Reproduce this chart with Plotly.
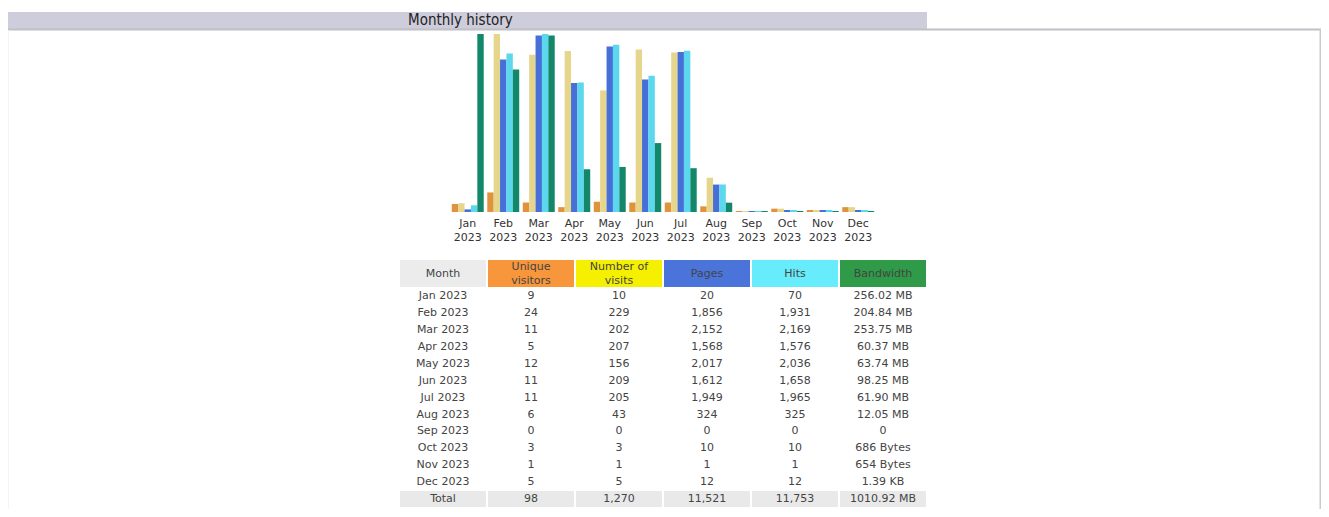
import plotly.graph_objects as go

# Page body has an 8px margin: figure covers page pixels (8,8)-(1329,509)
OX, OY = 8, 8
W, H = 1329 - OX, 517 - 2 * OY

months = ["Jan", "Feb", "Mar", "Apr", "May", "Jun", "Jul", "Aug", "Sep", "Oct", "Nov", "Dec"]
year = "2023"
visitors = [9, 24, 11, 5, 12, 11, 11, 6, 0, 3, 1, 5]
visits = [10, 229, 202, 207, 156, 209, 205, 43, 0, 3, 1, 5]
pages = [20, 1856, 2152, 1568, 2017, 1612, 1949, 324, 0, 10, 1, 12]
hits = [70, 1931, 2169, 1576, 2036, 1658, 1965, 325, 0, 10, 1, 12]
bandwidth_mb = [256.02, 204.84, 253.75, 60.37, 63.74, 98.25, 61.90, 12.05, 0,
                686 / 1048576, 654 / 1048576, 1.39 / 1024]
bandwidth_txt = ["256.02 MB", "204.84 MB", "253.75 MB", "60.37 MB", "63.74 MB", "98.25 MB",
                 "61.90 MB", "12.05 MB", "0", "686 Bytes", "654 Bytes", "1.39 KB"]
totals = ["Total", "98", "1,270", "11,521", "11,753", "1010.92 MB"]

col_headers = ["Month", "Unique<br>visitors", "Number of<br>visits", "Pages", "Hits", "Bandwidth"]
header_colors = ["#ececec", "#f8963c", "#f4f000", "#4a74da", "#66ecfa", "#2f9a48"]
bar_colors = ["#e0923c", "#e6d68c", "#4670d8", "#5cd8ee", "#13876a"]

BAR_H = 177  # bar pixel height for the maximum value (AWStats style)


def px(x):
    return (x - OX) / W


def py(y):
    return 1 - (y - OY) / H


def scale(vals, vmax):
    return [v / vmax * BAR_H + 1 for v in vals]


max_v = max(visits)
max_h = max(hits)
max_k = max(bandwidth_mb)
series = [
    ("Unique visitors", scale(visitors, max_v), visitors),
    ("Number of visits", scale(visits, max_v), visits),
    ("Pages", scale(pages, max_h), pages),
    ("Hits", scale(hits, max_h), hits),
    ("Bandwidth", scale(bandwidth_mb, max_k), bandwidth_txt),
]

xlabels = [f"{m}<br>{year}" for m in months]

fig = go.Figure()
for (name, hts, raw), col in zip(series, bar_colors):
    fig.add_trace(go.Bar(
        x=list(range(12)), y=hts, name=name, marker=dict(color=col, line=dict(width=0)),
        customdata=raw, hovertemplate="%{customdata}<extra>" + name + "</extra>",
    ))


def fmt(n):
    return f"{n:,}"


# ---- table (heatmap for cell fills, text trace for contents) ----
month_col = [f"{m} {year}" for m in months]
body = [
    month_col,
    [fmt(v) for v in visitors],
    [fmt(v) for v in visits],
    [fmt(v) for v in pages],
    [fmt(v) for v in hits],
    bandwidth_txt,
]
HEAD_H, ROW_H = 28, 16.9
nbody = len(month_col) + 1  # + total row
y_edges = [0, HEAD_H] + [HEAD_H + ROW_H * (i + 1) for i in range(nbody)]
TABLE_H = y_edges[-1]

ncol = len(col_headers)
# codes: 0 white, 1..6 header colours, 7 total grey
z = [[c + 1 for c in range(ncol)]]
z += [[0] * ncol for _ in range(nbody - 1)]
z += [[7] * ncol]
palette = ["#ffffff"] + header_colors + ["#e9e9e9"]
n = len(palette)
cscale = []
for k, c in enumerate(palette):
    cscale += [[k / n, c], [(k + 1) / n, c]]

fig.add_trace(go.Heatmap(
    z=z, x=list(range(ncol + 1)), y=y_edges, colorscale=cscale, zmin=-0.5, zmax=n - 0.5,
    showscale=False, xgap=2, ygap=1, hoverinfo="skip", xaxis="x2", yaxis="y2",
))

tx, ty, tt = [], [], []
for c in range(ncol):
    tx.append(c + 0.5)
    ty.append(HEAD_H / 2)
    tt.append(col_headers[c])
    for r in range(nbody - 1):
        tx.append(c + 0.5)
        ty.append((y_edges[r + 1] + y_edges[r + 2]) / 2)
        tt.append(body[c][r])
    tx.append(c + 0.5)
    ty.append((y_edges[-2] + y_edges[-1]) / 2)
    tt.append(totals[c])

fig.add_trace(go.Scatter(
    x=tx, y=ty, text=tt, mode="text", textposition="middle center",
    textfont=dict(family="DejaVu Sans", size=11, color="#444444"),
    hoverinfo="skip", xaxis="x2", yaxis="y2",
))

fig.update_layout(
    width=W, height=H, margin=dict(l=0, r=0, t=0, b=0),
    paper_bgcolor="#ffffff", plot_bgcolor="rgba(0,0,0,0)",
    barmode="group", bargap=0.1, bargroupgap=0, showlegend=False,
    xaxis=dict(domain=[px(450), px(876)], range=[-0.5, 11.5], tickmode="array",
               tickvals=list(range(12)), ticktext=xlabels, showgrid=False, zeroline=False,
               showline=False, ticks="", ticklabelstandoff=3,
               tickfont=dict(family="DejaVu Sans", size=11, color="#333333"),
               anchor="y", fixedrange=True),
    yaxis=dict(domain=[py(212), py(212 - BAR_H - 1)], range=[0, BAR_H + 1], visible=False,
               showgrid=False, zeroline=False, fixedrange=True),
    xaxis2=dict(domain=[px(399), px(927)], range=[0, ncol], visible=False, anchor="y2",
                fixedrange=True),
    yaxis2=dict(domain=[py(260 + TABLE_H), py(260)], range=[TABLE_H, 0], visible=False,
                anchor="x2", fixedrange=True),
    shapes=[
        dict(type="rect", xref="paper", yref="paper", x0=px(8), x1=px(927), y0=py(29), y1=py(12),
             fillcolor="#cdcddc", line=dict(width=0), layer="below"),
        dict(type="line", xref="paper", yref="paper", x0=px(8), x1=px(1322), y0=py(29.5), y1=py(29.5),
             line=dict(color="#c0c0c6", width=2)),
        dict(type="line", xref="paper", yref="paper", x0=px(1320.5), x1=px(1320.5), y0=py(29), y1=0,
             line=dict(color="#cbcbd0", width=2)),
        dict(type="line", xref="paper", yref="paper", x0=px(8.5), x1=px(8.5), y0=py(30), y1=0,
             line=dict(color="#f4f4f4", width=1)),
    ],
    annotations=[
        dict(text="Monthly history", xref="paper", yref="paper", x=px(406), y=py(20.5),
             xanchor="left", yanchor="middle", showarrow=False,
             font=dict(family="DejaVu Sans Condensed", size=15, color="#222222")),
    ],
)

fig.write_html("out.html")
